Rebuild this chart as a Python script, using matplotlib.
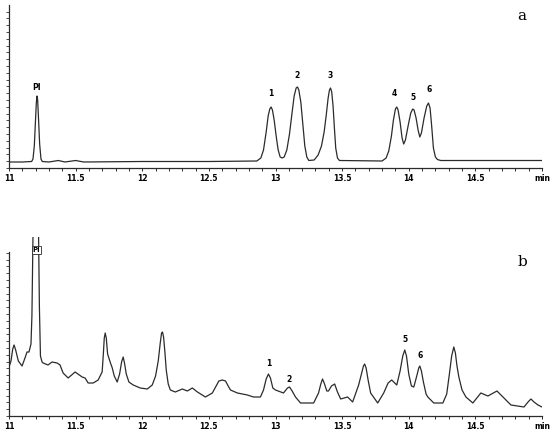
"""
Two GC chromatograms (a: standards, b: sample), time axis 11-15 min.
"""

import matplotlib
matplotlib.use("Agg")
import matplotlib.pyplot as plt
from matplotlib.ticker import MultipleLocator, FixedLocator
from matplotlib.patches import Rectangle

# ============ data ============
time_a = [11.00, 11.10, 11.17, 11.18, 11.19, 11.198, 11.205, 11.21, 11.215, 11.222,
          11.23, 11.24, 11.25, 11.30, 11.37, 11.42, 11.50, 11.56, 12.00, 12.50,
          12.86, 12.89, 12.91, 12.93, 12.945, 12.957, 12.967, 12.977, 12.99, 13.005,
          13.02, 13.035, 13.05, 13.065, 13.085, 13.105, 13.125, 13.14, 13.155, 13.165,
          13.175, 13.19, 13.205, 13.22, 13.235, 13.25, 13.29, 13.32, 13.345, 13.365,
          13.38, 13.395, 13.405, 13.413, 13.422, 13.432, 13.442, 13.452, 13.465, 13.48,
          13.80, 13.83, 13.85, 13.87, 13.885, 13.90, 13.91, 13.92, 13.935, 13.95,
          13.962, 13.975, 13.995, 14.015, 14.03, 14.04, 14.055, 14.07, 14.083, 14.095,
          14.115, 14.135, 14.148, 14.16, 14.172, 14.185, 14.20, 14.215, 14.24, 14.50,
          15.00]
signal_a = [6, 6, 6.5, 9, 22, 45, 65, 72, 68, 48,
            24, 9, 6.5, 6, 7.5, 6, 7.5, 6, 6.5, 6.5,
            7, 10, 18, 36, 52, 59, 61, 58, 48, 32,
            18, 11, 10, 11, 18, 34, 56, 72, 80, 81,
            78, 66, 44, 22, 11, 7.5, 8, 13, 22, 36,
            52, 70, 78, 80, 76, 62, 40, 20, 10, 7.5,
            7, 10, 17, 32, 48, 59, 61, 58, 46, 30,
            24, 28, 42, 55, 59, 58, 50, 38, 31, 35,
            50, 62, 65, 60, 42, 20, 11, 8.5, 7.5, 7.5,
            7.5]

time_b = [11.00, 11.015, 11.028, 11.038, 11.05, 11.07, 11.098, 11.12, 11.135, 11.15,
          11.165, 11.172, 11.18, 11.20, 11.222, 11.228, 11.236, 11.248, 11.256, 11.293,
          11.323, 11.361, 11.383, 11.406, 11.444, 11.496, 11.549, 11.571, 11.594, 11.632,
          11.669, 11.699, 11.708, 11.715, 11.722, 11.73, 11.74, 11.759, 11.775, 11.79,
          11.812, 11.83, 11.845, 11.857, 11.868, 11.88, 11.90, 11.932, 11.985, 12.038,
          12.075, 12.10, 12.12, 12.135, 12.145, 12.152, 12.16, 12.17, 12.18, 12.195,
          12.211, 12.248, 12.301, 12.338, 12.376, 12.414, 12.474, 12.526, 12.555, 12.575,
          12.60, 12.625, 12.645, 12.662, 12.714, 12.789, 12.835, 12.887, 12.91, 12.93,
          12.947, 12.962, 12.98, 13.00, 13.06, 13.09, 13.105, 13.125, 13.15, 13.188,
          13.286, 13.323, 13.34, 13.353, 13.368, 13.385, 13.398, 13.42, 13.444, 13.465,
          13.489, 13.541, 13.579, 13.624, 13.645, 13.66, 13.669, 13.68, 13.695, 13.714,
          13.767, 13.812, 13.845, 13.872, 13.91, 13.935, 13.955, 13.97, 13.983, 14.00,
          14.02, 14.038, 14.06, 14.075, 14.083, 14.095, 14.11, 14.13, 14.143, 14.188,
          14.256, 14.285, 14.305, 14.322, 14.338, 14.35, 14.362, 14.376, 14.40, 14.429,
          14.481, 14.541, 14.594, 14.662, 14.714, 14.767, 14.865, 14.895, 14.917, 14.94,
          14.97, 15.00]
signal_b = [49, 55, 67, 71, 66, 55, 50, 58, 64, 64,
            72, 100, 180, 300, 180, 110, 60, 54, 53, 51,
            54, 53, 51, 43, 38, 44, 39, 38, 33, 33,
            36, 44, 62, 78, 83, 78, 62, 54, 48, 40,
            34, 42, 54, 59, 52, 42, 34, 31, 28, 27,
            31, 40, 55, 73, 83, 84, 79, 64, 46, 32,
            26, 24, 27, 25, 28, 24, 19, 23, 30, 35,
            36, 35, 30, 26, 23, 21, 19, 19, 26, 37,
            42, 38, 28, 26, 23, 28, 29, 25, 19, 13,
            13, 23, 32, 37, 32, 25, 25, 30, 32, 24,
            17, 19, 14, 31, 42, 50, 52, 48, 36, 23,
            13, 23, 33, 36, 31, 45, 60, 66, 60, 42,
            30, 29, 40, 48, 50, 45, 34, 22, 19, 13,
            13, 22, 42, 60, 69, 63, 50, 39, 26, 19,
            13, 23, 20, 25, 18, 11, 9, 14, 17, 14,
            11, 9]

tick_pos = [11, 11.5, 12, 12.5, 13, 13.5, 14, 14.5, 15]
tick_lab = ["11", "11.5", "12", "12.5", "13", "13.5", "14", "14.5", "min"]

peaks_a = [("PI", 11.21, 81), ("1", 12.965, 75), ("2", 13.165, 92), ("3", 13.413, 92),
           ("4", 13.89, 75), ("5", 14.03, 70), ("6", 14.155, 78)]
peaks_b = [("1", 12.947, 53), ("2", 13.105, 37), ("5", 13.97, 76), ("6", 14.083, 61)]

LINE = "#2b2b2b"
W, H = 554, 442


def style_axis(ax, ymax):
    ax.set_xlim(11, 15)
    ax.set_ylim(0, ymax)
    for s in ("top", "right"):
        ax.spines[s].set_visible(False)
    for s in ("left", "bottom"):
        ax.spines[s].set_color(LINE)
        ax.spines[s].set_linewidth(0.9)
    ax.xaxis.set_major_locator(FixedLocator(tick_pos))
    ax.xaxis.set_minor_locator(MultipleLocator(0.1))
    ax.set_xticklabels(tick_lab, fontsize=5.5, fontweight="bold")
    ax.yaxis.set_major_locator(MultipleLocator(6.8))
    ax.yaxis.set_minor_locator(MultipleLocator(6.8))
    ax.set_yticklabels([])
    ax.tick_params(axis="x", which="both", direction="out", length=2.5, width=0.7,
                   color=LINE, pad=2)
    ax.tick_params(axis="y", which="both", direction="out", length=2.2, width=0.6,
                   color=LINE)
    ax.set_facecolor("none")


fig = plt.figure(figsize=(W / 100, H / 100), dpi=100)

# panel a
ax_a = fig.add_axes([9 / W, 1 - 168 / H, 533 / W, 163 / H])
style_axis(ax_a, 163)
ax_a.plot(time_a, signal_a, color=LINE, lw=0.9)
for lab, t, y in peaks_a:
    ax_a.text(t, y, lab, fontsize=5.5, fontweight="bold", ha="center", va="center")
ax_a.text(14.85, 152, "a", family="DejaVu Serif", fontsize=11, ha="center", va="center")

# panel b
ax_b = fig.add_axes([9 / W, 1 - 416 / H, 533 / W, 164 / H])
style_axis(ax_b, 164)
line_b, = ax_b.plot(time_b, signal_b, color=LINE, lw=0.9)
clip = Rectangle((0, 0), 1, (416 - 237) / 164, transform=ax_b.transAxes)
line_b.set_clip_path(clip)
for lab, t, y in peaks_b:
    ax_b.text(t, y, lab, fontsize=5.5, fontweight="bold", ha="center", va="center")
ax_b.text(11.205, 166, "PI", fontsize=5, fontweight="bold", ha="center", va="center",
          clip_on=False,
          bbox=dict(boxstyle="square,pad=0.1", fc="white", ec=LINE, lw=0.6))
ax_b.text(14.85, 154, "b", family="DejaVu Serif", fontsize=11, ha="center", va="center")

fig.savefig("out.png", dpi=100)
